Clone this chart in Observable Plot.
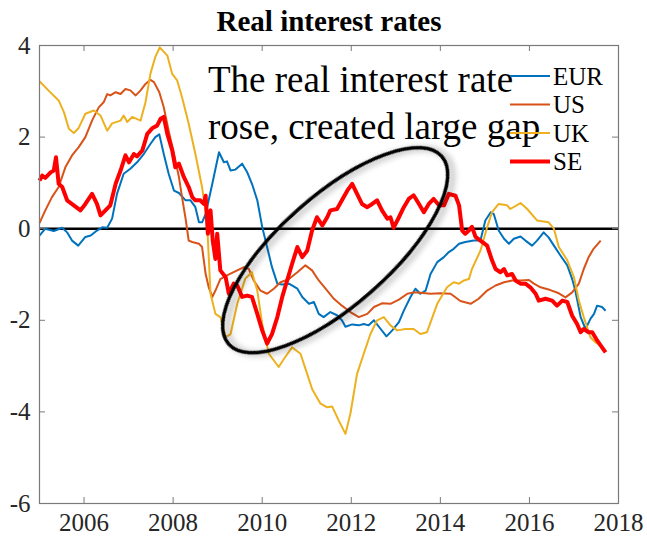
<!DOCTYPE html>
<html><head><meta charset="utf-8">
<script src="https://cdn.jsdelivr.net/npm/d3@7"></script>
<script src="https://cdn.jsdelivr.net/npm/@observablehq/plot@0.6"></script>
<style>
body{margin:0;background:#fff}
#chart{width:647px;height:538px}
</style>
</head><body><div id="chart"></div>
<script>
const titleText = "Real interest rates";
const noteLines = ["The real interest rate", "rose, created large gap"];
const seriesNames = ["EUR", "US", "UK", "SE"];
const seriesColors = ["#0072BD", "#D95319", "#EDB120", "#FF0000"];
const xTicks = [2006, 2008, 2010, 2012, 2014, 2016, 2018];
const yTicks = [-6, -4, -2, 0, 2, 4];

const eur = [[2005.00,-0.15],[2005.13,0.00],[2005.32,-0.05],[2005.51,0.02],[2005.62,-0.08],[2005.73,-0.26],[2005.87,-0.37],[2006.03,-0.18],[2006.15,-0.15],[2006.29,-0.04],[2006.41,0.03],[2006.52,0.02],[2006.63,0.22],[2006.74,0.76],[2006.89,1.20],[2007.04,1.31],[2007.19,1.45],[2007.34,1.63],[2007.49,1.85],[2007.60,2.00],[2007.69,2.06],[2007.79,1.63],[2007.90,1.20],[2008.02,0.83],[2008.13,0.78],[2008.28,0.62],[2008.39,0.62],[2008.50,0.47],[2008.58,0.14],[2008.65,0.14],[2008.73,0.32],[2008.88,0.98],[2009.03,1.67],[2009.14,1.45],[2009.21,1.47],[2009.29,1.27],[2009.40,1.29],[2009.55,1.42],[2009.66,1.24],[2009.77,0.98],[2009.89,0.62],[2010.00,0.04],[2010.11,-0.40],[2010.22,-0.84],[2010.34,-1.20],[2010.45,-1.22],[2010.60,-1.20],[2010.79,-1.31],[2010.90,-1.49],[2011.05,-1.64],[2011.16,-1.60],[2011.27,-1.86],[2011.38,-1.93],[2011.53,-1.82],[2011.68,-1.89],[2011.79,-2.00],[2011.87,-2.14],[2012.02,-2.09],[2012.17,-2.11],[2012.28,-2.08],[2012.39,-2.11],[2012.51,-2.00],[2012.66,-2.19],[2012.79,-2.35],[2012.92,-2.22],[2013.07,-2.04],[2013.18,-1.79],[2013.33,-1.49],[2013.44,-1.31],[2013.55,-1.42],[2013.67,-1.35],[2013.78,-0.99],[2013.93,-0.73],[2014.08,-0.62],[2014.19,-0.51],[2014.30,-0.44],[2014.42,-0.33],[2014.56,-0.29],[2014.75,-0.26],[2014.90,-0.26],[2015.01,0.18],[2015.13,0.36],[2015.20,0.32],[2015.31,-0.04],[2015.43,-0.22],[2015.54,-0.33],[2015.65,-0.22],[2015.80,-0.17],[2015.91,-0.26],[2016.06,-0.37],[2016.17,-0.26],[2016.32,-0.08],[2016.43,-0.19],[2016.55,-0.37],[2016.70,-0.59],[2016.85,-0.80],[2016.96,-1.10],[2017.03,-1.35],[2017.15,-1.93],[2017.26,-2.19],[2017.37,-1.97],[2017.45,-1.86],[2017.52,-1.68],[2017.63,-1.71],[2017.71,-1.79]];

const us = [[2005.00,0.12],[2005.13,0.40],[2005.28,0.69],[2005.43,0.91],[2005.58,1.34],[2005.73,1.60],[2005.88,1.78],[2006.03,2.00],[2006.18,2.36],[2006.33,2.65],[2006.44,2.76],[2006.52,2.94],[2006.59,2.91],[2006.71,2.98],[2006.82,2.94],[2006.93,3.05],[2007.04,3.02],[2007.16,2.91],[2007.27,3.02],[2007.38,3.16],[2007.49,3.25],[2007.57,3.20],[2007.69,2.98],[2007.79,2.65],[2007.90,2.14],[2008.02,1.63],[2008.13,1.13],[2008.20,0.69],[2008.28,0.22],[2008.35,-0.26],[2008.43,-0.29],[2008.58,-0.33],[2008.65,-0.40],[2008.73,-0.99],[2008.80,-1.28],[2008.88,-1.49],[2008.95,-1.35],[2009.06,-1.10],[2009.21,-1.02],[2009.44,-0.91],[2009.59,-0.84],[2009.70,-0.88],[2009.81,-1.13],[2009.96,-1.35],[2010.11,-1.42],[2010.26,-1.31],[2010.41,-1.17],[2010.60,-1.10],[2010.79,-0.95],[2010.97,-0.80],[2011.12,-0.91],[2011.27,-1.13],[2011.46,-1.35],[2011.61,-1.53],[2011.79,-1.68],[2011.98,-1.82],[2012.17,-1.93],[2012.36,-1.86],[2012.51,-1.71],[2012.69,-1.63],[2012.88,-1.64],[2013.07,-1.55],[2013.26,-1.42],[2013.40,-1.39],[2013.55,-1.40],[2013.78,-1.42],[2014.00,-1.41],[2014.23,-1.42],[2014.45,-1.58],[2014.68,-1.64],[2014.86,-1.53],[2015.05,-1.35],[2015.24,-1.24],[2015.43,-1.17],[2015.61,-1.13],[2015.80,-1.13],[2015.99,-1.12],[2016.10,-1.20],[2016.25,-1.28],[2016.47,-1.34],[2016.66,-1.41],[2016.81,-1.50],[2016.96,-1.39],[2017.11,-1.20],[2017.22,-0.88],[2017.33,-0.62],[2017.44,-0.44],[2017.60,-0.26]];

const uk = [[2005.00,3.22],[2005.20,3.02],[2005.43,2.80],[2005.55,2.54],[2005.66,2.18],[2005.77,2.09],[2005.88,2.20],[2006.03,2.51],[2006.22,2.58],[2006.37,2.47],[2006.52,2.14],[2006.63,2.30],[2006.82,2.36],[2006.89,2.47],[2006.97,2.33],[2007.08,2.44],[2007.27,2.36],[2007.38,2.76],[2007.49,3.38],[2007.60,3.75],[2007.70,3.96],[2007.87,3.78],[2007.98,3.38],[2008.09,3.24],[2008.20,2.87],[2008.35,2.29],[2008.50,1.63],[2008.65,0.91],[2008.76,0.18],[2008.84,-1.42],[2008.95,-1.86],[2009.06,-1.93],[2009.18,-2.37],[2009.29,-2.30],[2009.44,-1.64],[2009.62,-1.09],[2009.77,-0.95],[2009.89,-1.35],[2010.00,-2.08],[2010.15,-2.73],[2010.37,-3.02],[2010.49,-2.84],[2010.67,-2.59],[2010.86,-2.73],[2011.01,-3.17],[2011.12,-3.50],[2011.31,-3.82],[2011.46,-3.90],[2011.57,-3.88],[2011.72,-4.19],[2011.87,-4.48],[2011.98,-4.04],[2012.13,-3.17],[2012.28,-2.73],[2012.43,-2.30],[2012.58,-2.00],[2012.73,-1.93],[2012.88,-2.11],[2013.03,-2.22],[2013.22,-2.19],[2013.40,-2.19],[2013.55,-2.30],[2013.70,-2.26],[2013.93,-1.64],[2014.15,-1.28],[2014.30,-1.17],[2014.42,-1.20],[2014.53,-1.13],[2014.64,-1.10],[2014.71,-0.88],[2014.90,-0.48],[2015.05,0.03],[2015.16,0.36],[2015.31,0.54],[2015.50,0.51],[2015.57,0.43],[2015.80,0.56],[2015.95,0.43],[2016.17,0.18],[2016.43,0.14],[2016.55,0.00],[2016.66,-0.40],[2016.85,-0.69],[2017.00,-1.06],[2017.11,-1.57],[2017.22,-1.93],[2017.37,-2.37],[2017.48,-2.48],[2017.60,-2.55]];

const se = [[2005.00,1.05],[2005.06,1.16],[2005.13,1.11],[2005.25,1.23],[2005.32,1.27],[2005.37,1.56],[2005.43,0.98],[2005.51,0.91],[2005.62,0.62],[2005.77,0.51],[2005.92,0.40],[2006.03,0.54],[2006.18,0.76],[2006.29,0.54],[2006.37,0.29],[2006.48,0.40],[2006.59,0.51],[2006.71,0.98],[2006.82,1.27],[2006.93,1.60],[2007.01,1.45],[2007.12,1.63],[2007.19,1.58],[2007.31,1.71],[2007.42,2.07],[2007.54,2.20],[2007.64,2.25],[2007.72,2.40],[2007.79,2.44],[2007.87,2.07],[2007.98,1.71],[2008.05,1.34],[2008.13,1.42],[2008.24,1.13],[2008.35,0.91],[2008.43,0.69],[2008.50,0.62],[2008.61,0.62],[2008.69,0.54],[2008.73,0.72],[2008.78,-0.11],[2008.84,0.40],[2008.89,-0.26],[2008.95,-0.66],[2008.99,-0.11],[2009.06,-0.91],[2009.18,-1.06],[2009.25,-1.42],[2009.36,-1.20],[2009.44,-1.24],[2009.55,-1.49],[2009.66,-1.46],[2009.77,-1.49],[2009.89,-1.86],[2010.00,-2.22],[2010.11,-2.51],[2010.22,-2.30],[2010.34,-1.93],[2010.45,-1.49],[2010.56,-1.13],[2010.67,-0.77],[2010.79,-0.40],[2010.90,-0.62],[2011.01,-0.48],[2011.12,-0.04],[2011.23,0.25],[2011.35,0.07],[2011.46,0.25],[2011.53,0.40],[2011.68,0.43],[2011.79,0.62],[2011.91,0.83],[2012.02,0.98],[2012.13,0.76],[2012.24,0.54],[2012.36,0.47],[2012.47,0.54],[2012.58,0.62],[2012.69,0.40],[2012.81,0.22],[2012.88,0.25],[2012.95,0.02],[2013.07,0.25],[2013.18,0.47],[2013.29,0.65],[2013.40,0.73],[2013.52,0.54],[2013.63,0.36],[2013.74,0.54],[2013.85,0.65],[2013.97,0.51],[2014.08,0.51],[2014.19,0.76],[2014.34,0.72],[2014.42,0.51],[2014.49,-0.04],[2014.56,-0.11],[2014.64,-0.04],[2014.71,0.04],[2014.79,-0.18],[2014.90,-0.26],[2015.05,-0.37],[2015.16,-0.69],[2015.24,-0.88],[2015.35,-0.95],[2015.43,-0.88],[2015.50,-1.02],[2015.61,-0.99],[2015.69,-1.13],[2015.80,-1.20],[2015.91,-1.20],[2016.02,-1.28],[2016.14,-1.42],[2016.21,-1.57],[2016.36,-1.53],[2016.51,-1.57],[2016.62,-1.68],[2016.74,-1.57],[2016.85,-1.60],[2016.96,-1.90],[2017.07,-2.08],[2017.15,-2.26],[2017.22,-2.19],[2017.33,-2.26],[2017.41,-2.26],[2017.52,-2.44],[2017.63,-2.59],[2017.71,-2.70]];

const seriesData = [eur, us, uk, se];
const seriesWidths = [2, 2, 2, 4];

const W = 647, H = 538;
const mL = 39, mR = 29, mT = 45, mB = 35;
const innerW = W - mL - mR, innerH = H - mT - mB;
const serif = "Liberation Serif, Times New Roman, serif";
const frameColor = "#7a7a7a";
const textColor = "#262626";

const marks = [
  Plot.ruleY([0], {stroke: "#000", strokeWidth: 2.5}),
  ...seriesData.map((data, i) => Plot.line(data, {
    x: d => d[0], y: d => d[1],
    stroke: seriesColors[i], strokeWidth: seriesWidths[i],
    strokeLinejoin: "round", strokeLinecap: "butt"
  })),
  Plot.frame({stroke: frameColor, strokeWidth: 1.2}),
  Plot.tickX(xTicks, {x: d => d, insetTop: innerH - 6, stroke: frameColor}),
  Plot.tickX(xTicks, {x: d => d, insetBottom: innerH - 6, stroke: frameColor}),
  Plot.tickY(yTicks, {y: d => d, insetRight: innerW - 6, stroke: frameColor}),
  Plot.tickY(yTicks, {y: d => d, insetLeft: innerW - 6, stroke: frameColor}),
  Plot.axisX(xTicks, {tickSize: 0, tickPadding: 10, fontSize: 25, fill: textColor, tickFormat: d => String(d), label: null}),
  Plot.axisY(yTicks, {tickSize: 0, tickPadding: 9, fontSize: 25, fill: textColor, tickFormat: d => String(d), label: null}),
  Plot.text([titleText], {frameAnchor: "top", lineAnchor: "middle", dy: -24, fontSize: 29, fontWeight: "bold", fill: "#000"})
];

const chart = Plot.plot({
  width: W, height: H,
  marginLeft: mL, marginRight: mR, marginTop: mT, marginBottom: mB,
  x: {domain: [2005, 2018]},
  y: {domain: [-6, 4]},
  style: {background: "#fff", overflow: "visible", fontFamily: serif},
  marks
});

const svg = d3.select(chart);
const sx = d3.scaleLinear().domain([2005, 2018]).range([mL, W - mR]);
const sy = d3.scaleLinear().domain([-6, 4]).range([H - mB, mT]);

// annotation text
const note = svg.append("g").style("font-family", serif).style("font-size", "37px").attr("fill", "#000").attr("text-anchor", "start");
noteLines.forEach((t, i) => note.append("text").attr("x", 208).attr("y", 92 + i * 47).text(t));

// legend
const leg = svg.append("g").style("font-family", serif).style("font-size", "25px").attr("fill", "#000").attr("text-anchor", "start");
seriesNames.forEach((n, i) => {
  const y = 76 + i * 28.5;
  leg.append("line").attr("x1", 510).attr("x2", 550).attr("y1", y).attr("y2", y)
    .attr("stroke", seriesColors[i]).attr("stroke-width", seriesWidths[i]);
  leg.append("text").attr("x", 553).attr("y", y).attr("dy", "0.35em").text(n);
});

// ellipse annotation with shadow
const defs = svg.append("defs");
const f = defs.append("filter").attr("id", "shadow").attr("x", "-20%").attr("y", "-20%").attr("width", "140%").attr("height", "140%");
f.append("feDropShadow").attr("dx", 3).attr("dy", 4).attr("stdDeviation", 3).attr("flood-color", "#000").attr("flood-opacity", 0.35);
const cx = sx(2011.65), cy = sy(-0.48);
svg.append("ellipse")
  .attr("cx", 0).attr("cy", 0).attr("rx", 142).attr("ry", 55)
  .attr("transform", `translate(${cx},${cy}) rotate(-41.4)`)
  .attr("fill", "none").attr("stroke", "#000").attr("stroke-width", 3.5)
  .attr("filter", "url(#shadow)");

document.getElementById("chart").appendChild(chart);
</script>
</body></html>
